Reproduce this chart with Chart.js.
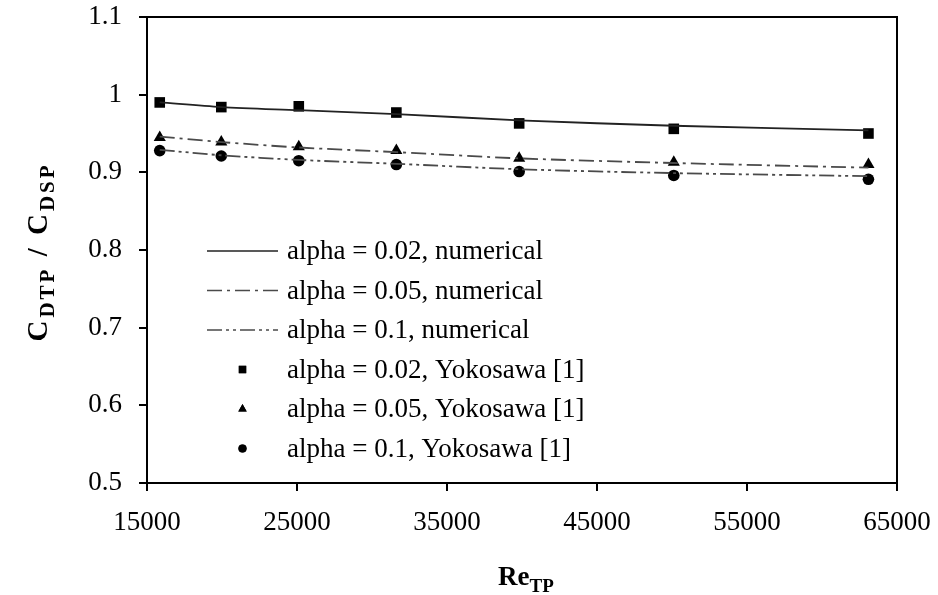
<!DOCTYPE html>
<html>
<head>
<meta charset="utf-8">
<script src="https://cdn.jsdelivr.net/npm/chart.js@4"></script>
<style>
  html, body { margin: 0; padding: 0; background: #fff; }
  #wrap { width: 938px; height: 595px; }
</style>
</head>
<body>
<div id="wrap"><canvas id="chart" width="938" height="595"></canvas></div>
<script>
// Reynolds numbers (log spaced)
const reTP = [15849, 19953, 25119, 31623, 39811, 50119, 63096];

// numerical curves
const num002 = [0.990, 0.984, 0.980, 0.975, 0.967, 0.960, 0.954];
const num005 = [0.946, 0.939, 0.932, 0.926, 0.918, 0.912, 0.906];
const num01  = [0.929, 0.922, 0.916, 0.911, 0.904, 0.899, 0.895];

// Yokosawa [1] measurements
const yok002 = [0.990, 0.984, 0.985, 0.977, 0.963, 0.956, 0.950];
const yok005 = [0.945, 0.939, 0.933, 0.928, 0.918, 0.913, 0.910];
const yok01  = [0.928, 0.921, 0.915, 0.910, 0.901, 0.896, 0.891];

const xTicks = [15000, 25000, 35000, 45000, 55000, 65000];
const yTicks = [0.5, 0.6, 0.7, 0.8, 0.9, 1.0, 1.1];

const legendLabels = [
    'alpha = 0.02, numerical',
    'alpha = 0.05, numerical',
    'alpha = 0.1, numerical',
    'alpha = 0.02, Yokosawa [1]',
    'alpha = 0.05, Yokosawa [1]',
    'alpha = 0.1, Yokosawa [1]'
];

const serif = '"Liberation Serif", "Times New Roman", serif';

function pts(ys) {
    return ys.map((y, i) => ({ x: reTP[i], y: y }));
}

const dashes = [[], [15, 5, 3, 5], [15, 4, 3, 4, 3, 4]];
const markers = ['rect', 'triangle', 'circle'];
const markerSize = [7.5, 7, 5.8];

const datasets = [num002, num005, num01].map((ys, i) => ({
    label: legendLabels[i],
    data: pts(ys),
    showLine: true,
    borderColor: i === 0 ? '#222' : '#4a4a4a',
    borderWidth: 1.8,
    borderDash: dashes[i],
    pointRadius: 0,
    tension: 0.3
})).concat([yok002, yok005, yok01].map((ys, i) => ({
    label: legendLabels[i + 3],
    data: pts(ys),
    showLine: false,
    pointStyle: markers[i],
    pointRadius: markerSize[i],
    backgroundColor: '#000',
    borderColor: '#000',
    borderWidth: 0
})));

// text with subscripts, returns width
function subText(ctx, parts, x, y, big, small, measureOnly) {
    let w = 0;
    parts.forEach(p => {
        ctx.font = 'bold ' + (p.sub ? small : big) + 'px ' + serif;
        const tw = ctx.measureText(p.t).width;
        if (!measureOnly) ctx.fillText(p.t, x + w, y + (p.sub ? 7 : 0));
        w += tw;
    });
    return w;
}

// keep the plot box where the picture has it, labels may overhang
function noOverhang(axis) {
    axis.paddingTop = 0;
    axis.paddingBottom = 0;
    axis.paddingLeft = 0;
    axis.paddingRight = 0;
}

const decorations = {
    id: 'decorations',
    afterDraw(chart) {
        const ctx = chart.ctx;
        const a = chart.chartArea;
        ctx.save();
        // frame
        ctx.strokeStyle = '#000';
        ctx.lineWidth = 2;
        ctx.strokeRect(a.left, a.top, a.right - a.left, a.bottom - a.top);

        // axis titles
        ctx.fillStyle = '#000';
        ctx.textBaseline = 'alphabetic';
        const xParts = [{ t: 'Re' }, { t: 'TP', sub: true }];
        const xw = subText(ctx, xParts, 0, 0, 27, 19, true);
        subText(ctx, xParts, 526 - xw / 2, 585, 27, 19);

        const yParts = [{ t: 'C' }, { t: 'DTP', sub: true }, { t: ' / C' }, { t: 'DSP', sub: true }];
        ctx.translate(47, 252);
        ctx.rotate(-Math.PI / 2);
        ctx.letterSpacing = '3px';
        const yw = subText(ctx, yParts, 0, 0, 29, 21, true);
        subText(ctx, yParts, -yw / 2, 0, 29, 21);
        ctx.restore();

        // legend
        ctx.save();
        ctx.font = '27px ' + serif;
        ctx.textBaseline = 'middle';
        ctx.fillStyle = '#000';
        const x0 = 207, x1 = 278, tx = 287, rowY = 251, gap = 39.5;
        chart.data.datasets.forEach((ds, i) => {
            const y = rowY + i * gap;
            if (i < 3) {
                ctx.strokeStyle = ds.borderColor;
                ctx.lineWidth = 1.5;
                ctx.setLineDash(ds.borderDash);
                ctx.beginPath();
                ctx.moveTo(x0, y);
                ctx.lineTo(x1, y);
                ctx.stroke();
                ctx.setLineDash([]);
            } else {
                Chart.helpers.drawPoint(ctx, {
                    pointStyle: ds.pointStyle,
                    radius: ds.pointRadius * 0.7,
                    borderWidth: 0
                }, (x0 + x1) / 2, y);
                ctx.fill();
            }
            ctx.fillText(ds.label, tx, y + 1);
        });
        ctx.restore();
    }
};

new Chart(document.getElementById('chart'), {
    type: 'scatter',
    data: { datasets: datasets },
    plugins: [decorations],
    options: {
        responsive: false,
        animation: false,
        layout: { padding: { top: 17, right: 41, left: 0, bottom: 0 } },
        plugins: {
            legend: { display: false },
            tooltip: { enabled: false }
        },
        scales: {
            x: {
                type: 'linear',
                min: 15000,
                max: 65000,
                afterFit: (axis) => { axis.height = 112; noOverhang(axis); },
                afterBuildTicks: (axis) => { axis.ticks = xTicks.map(v => ({ value: v })); },
                ticks: {
                    color: '#000',
                    padding: 16,
                    maxRotation: 0,
                    font: { family: serif, size: 27 },
                    callback: (v) => String(v)
                },
                grid: { drawOnChartArea: false, color: '#000', lineWidth: 2, tickLength: 8 },
                border: { color: '#000', width: 2 }
            },
            y: {
                min: 0.5,
                max: 1.1,
                afterFit: (axis) => { axis.width = 147; noOverhang(axis); },
                afterBuildTicks: (axis) => { axis.ticks = yTicks.map(v => ({ value: v })); },
                ticks: {
                    color: '#000',
                    padding: 17,
                    font: { family: serif, size: 27 },
                    callback: (v) => String(+v.toFixed(1))
                },
                grid: { drawOnChartArea: false, color: '#000', lineWidth: 2, tickLength: 8 },
                border: { color: '#000', width: 2 }
            }
        }
    }
});
</script>
</body>
</html>
